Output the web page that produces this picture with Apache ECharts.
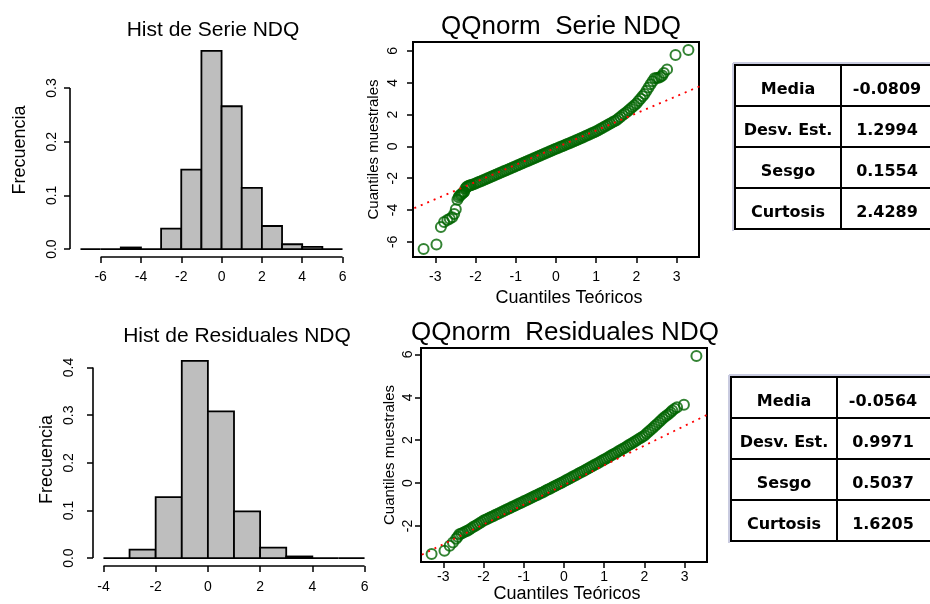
<!DOCTYPE html>
<html><head><meta charset="utf-8">
<script src="https://cdn.jsdelivr.net/npm/echarts@6/dist/echarts.min.js"></script>
<style>html,body{margin:0;padding:0;background:#fff}#c{width:930px;height:604px}</style>
</head><body><div id="c"></div>
<script>
// ---------------- data ----------------
const serieBreaks = [-7,-6,-5,-4,-3,-2,-1,0,1,2,3,4,5,6];
const serieDensity = [0,0,0.003,0,0.038,0.148,0.369,0.266,0.114,0.043,0.009,0.004,0];
const residBreaks = [-4,-3,-2,-1,0,1,2,3,4,5,6];
const residDensity = [0,0.018,0.128,0.414,0.308,0.098,0.022,0.0035,0,0];

const serieHistXTicks = [-6,-4,-2,0,2,4,6];
const serieHistYTicks = [0,0.1,0.2,0.3];
const residHistXTicks = [-4,-2,0,2,4,6];
const residHistYTicks = [0,0.1,0.2,0.3,0.4];
const qqXTicks = [-3,-2,-1,0,1,2,3];
const serieQQYTicks = [-6,-4,-2,0,2,4,6];
const residQQYTicks = [-2,0,2,4,6];

const serieQQTheo = [-3.29,-2.97,-2.86,-2.78,-2.70,-2.64,-2.58,-2.53,-2.49,-2.45,-2.42,-2.40,-2.37,-2.35,-2.33,-2.30,-2.28,-2.25,-2.22,-2.19,-2.16,-2.13,
 -2.10,-2.05,-2.00,-1.95,-1.90,-1.85,-1.80,-1.75,-1.70,-1.65,
 -1.60,-1.55,-1.50,-1.45,-1.40,-1.35,-1.30,-1.25,-1.20,-1.15,
 -1.10,-1.05,-1.00,-0.95,-0.90,-0.85,-0.80,-0.75,-0.70,-0.65,
 -0.60,-0.55,-0.50,-0.45,-0.40,-0.35,-0.30,-0.25,-0.20,-0.15,
 -0.10,-0.05,0.00,0.05,0.10,0.15,0.20,0.25,0.30,0.35,
 0.40,0.45,0.50,0.55,0.60,0.65,0.70,0.75,0.80,0.85,
 0.90,0.95,1.00,1.05,1.10,1.15,1.20,1.25,1.30,1.35,
 1.40,1.45,1.50,1.55,1.60,1.65,1.70,1.75,1.80,1.85,
 1.90,1.95,2.00,2.05,2.10,2.15,2.20,2.25,2.30,2.35,
 2.40,2.45,
 2.50,2.55,2.60,2.64,2.68,2.76,2.97,3.29];
const serieQQSample = [-6.45,-6.17,-5.07,-4.75,-4.62,-4.55,-4.45,-4.25,-3.95,-3.35,-3.20,-3.10,-3.05,-3.00,-2.95,-2.90,-2.85,-2.65,-2.55,-2.50,-2.47,-2.44,
 -2.42,-2.38,-2.33,-2.27,-2.22,-2.17,-2.11,-2.06,-2.00,-1.95,
 -1.89,-1.84,-1.78,-1.73,-1.67,-1.62,-1.56,-1.51,-1.46,-1.40,
 -1.35,-1.29,-1.24,-1.19,-1.13,-1.08,-1.02,-0.97,-0.92,-0.86,
 -0.81,-0.75,-0.70,-0.64,-0.59,-0.53,-0.48,-0.42,-0.37,-0.31,
 -0.26,-0.20,-0.15,-0.10,-0.04,0.01,0.06,0.12,0.17,0.22,
 0.27,0.33,0.38,0.44,0.49,0.55,0.61,0.67,0.72,0.78,
 0.84,0.89,0.95,1.02,1.09,1.16,1.23,1.30,1.37,1.44,
 1.51,1.58,1.65,1.75,1.85,1.95,2.05,2.15,2.25,2.36,
 2.48,2.59,2.70,2.85,3.00,3.15,3.30,3.50,3.70,3.90,
 4.10,4.28,
 4.30,4.32,4.38,4.45,4.62,4.84,5.75,6.06];

const residQQTheo = [-3.29,-2.97,-2.84,-2.76,-2.68,-2.64,
 -2.60,-2.55,-2.50,-2.45,-2.40,-2.35,-2.30,-2.25,-2.20,-2.15,
 -2.10,-2.05,-2.00,-1.95,-1.90,-1.85,-1.80,-1.75,-1.70,-1.65,
 -1.60,-1.55,-1.50,-1.45,-1.40,-1.35,-1.30,-1.25,-1.20,-1.15,
 -1.10,-1.05,-1.00,-0.95,-0.90,-0.85,-0.80,-0.75,-0.70,-0.65,
 -0.60,-0.55,-0.50,-0.45,-0.40,-0.35,-0.30,-0.25,-0.20,-0.15,
 -0.10,-0.05,0.00,0.05,0.10,0.15,0.20,0.25,0.30,0.35,
 0.40,0.45,0.50,0.55,0.60,0.65,0.70,0.75,0.80,0.85,
 0.90,0.95,1.00,1.05,1.10,1.15,1.20,1.25,1.30,1.35,
 1.40,1.45,1.50,1.55,1.60,1.65,1.70,1.75,1.80,1.85,
 1.90,1.95,2.00,2.05,2.10,2.15,2.20,2.25,2.30,2.35,
 2.40,2.45,
 2.50,2.55,2.60,2.65,2.69,2.75,2.81,2.98,3.29];
const residQQSample = [-3.31,-3.15,-2.92,-2.77,-2.60,-2.50,
 -2.39,-2.35,-2.31,-2.26,-2.22,-2.16,-2.10,-2.04,-1.99,-1.93,
 -1.87,-1.81,-1.75,-1.71,-1.66,-1.62,-1.57,-1.53,-1.48,-1.44,
 -1.39,-1.35,-1.30,-1.26,-1.21,-1.17,-1.12,-1.08,-1.03,-0.99,
 -0.94,-0.90,-0.85,-0.81,-0.76,-0.72,-0.67,-0.63,-0.58,-0.54,
 -0.49,-0.45,-0.40,-0.35,-0.30,-0.26,-0.21,-0.16,-0.11,-0.06,
 -0.02,0.03,0.08,0.13,0.18,0.23,0.28,0.33,0.38,0.43,
 0.48,0.53,0.58,0.63,0.68,0.74,0.79,0.84,0.89,0.94,
 1.00,1.05,1.10,1.15,1.21,1.26,1.32,1.37,1.42,1.48,
 1.53,1.59,1.64,1.70,1.76,1.81,1.87,1.93,1.99,2.05,
 2.10,2.16,2.22,2.31,2.39,2.48,2.56,2.65,2.73,2.82,
 2.91,3.00,
 3.08,3.15,3.22,3.30,3.39,3.47,3.54,3.65,5.93];

const serieQQLineX = [-4, 4];
const serieQQLineY = [-4.40, 4.24];
const residQQLineX = [-4, 4];
const residQQLineY = [-3.77, 3.59];

const statNames = ['Media','Desv. Est.','Sesgo','Curtosis'];
const serieStats = ['-0.0809','1.2994','0.1554','2.4289'];
const residStats = ['-0.0564','0.9971','0.5037','1.6205'];

// ---------------- helpers ----------------
const FONT = "'Liberation Sans', Arial, sans-serif";
function rExtend(lo, hi){ const d = (hi - lo) * 0.04; return [lo - d, hi + d]; }
function zip(a, b){ const n = Math.min(a.length, b.length); const r = []; for (let i = 0; i < n; i++) r.push([a[i], b[i]]); return r; }
function bins(breaks, dens){ return dens.map((d, i) => [breaks[i], breaks[i+1], d]); }

const h0x = rExtend(serieBreaks[0], serieBreaks[serieBreaks.length-1]);
const h0y = rExtend(0, Math.max(...serieDensity));
const h1x = rExtend(residBreaks[0], residBreaks[residBreaks.length-1]);
const h1y = rExtend(0, Math.max(...residDensity));
const q0x = rExtend(Math.min(...serieQQTheo), Math.max(...serieQQTheo));
const q0y = rExtend(Math.min(...serieQQSample), Math.max(...serieQQSample));
const q1x = rExtend(Math.min(...residQQTheo), Math.max(...residQQTheo));
const q1y = rExtend(Math.min(...residQQSample), Math.max(...residQQSample));

function vAxis(gi, range, ticks, o){
  return {
    type:'value', gridIndex:gi, min:range[0], max:range[1],
    splitLine:{show:false}, axisLine:{show:false, onZero:false},
    axisTick:{show:true, customValues:ticks, length:6, lineStyle:{color:'#000', width:1.5}},
    axisLabel:{customValues:ticks, margin:o.margin, rotate:o.rotate||0, fontSize:14, color:'#000', fontFamily:FONT,
      formatter:o.fmt || (v => String(Math.round(v)))},
    name:o.name||'', nameLocation:'middle', nameGap:o.nameGap||0, nameRotate:o.nameRotate||0,
    nameTextStyle:{fontSize:o.nameSize||16, color:'#000', fontFamily:FONT, padding:o.namePad||0}
  };
}
const fmt1 = v => v.toFixed(1);

function histSeries(gi, breaks, dens){
  return {
    type:'custom', xAxisIndex:gi, yAxisIndex:gi, silent:true,
    data:bins(breaks, dens), encode:{x:[0,1], y:2},
    renderItem:(params, api) => {
      const p0 = api.coord([api.value(0), api.value(2)]);
      const p1 = api.coord([api.value(1), 0]);
      return {type:'rect', shape:{x:p0[0], y:p0[1], width:p1[0]-p0[0], height:p1[1]-p0[1]},
        style:{fill:'#BEBEBE', stroke:'#000', lineWidth:1.8}};
    }
  };
}
function axisLineSeries(gi, data){
  return {type:'line', xAxisIndex:gi, yAxisIndex:gi, data:data, symbol:'none', clip:false, silent:true,
    lineStyle:{color:'#000', width:1.6}, z:5};
}
function qqPoints(gi, xs, ys){
  return {type:'scatter', xAxisIndex:gi, yAxisIndex:gi, data:zip(xs, ys), symbol:'circle', symbolSize:10, silent:true,
    itemStyle:{color:'rgba(0,0,0,0)', borderColor:'#006400', borderWidth:2}};
}
function qqLine(gi, xs, ys){
  return {type:'line', xAxisIndex:gi, yAxisIndex:gi, data:zip(xs, ys), symbol:'none', silent:true, z:4,
    lineStyle:{color:'#FF0000', width:1.8, type:[2,5]}};
}

function titleText(x, y, text, size){
  return {type:'text', x:x, y:y, silent:true,
    style:{text:text, align:'center', verticalAlign:'middle', fontSize:size, fontFamily:FONT, fill:'#000'}};
}
function tableGraphic(x, y, colX, rowH, names, vals){
  const h = rowH * names.length, w = 230;
  const els = [
    {type:'line', shape:{x1:x-2, y1:y-2, x2:x-2, y2:y+h+2}, style:{stroke:'#c9cbe0', lineWidth:2}},
    {type:'line', shape:{x1:x-2, y1:y-2, x2:x+w, y2:y-2}, style:{stroke:'#c9cbe0', lineWidth:2}},
    {type:'rect', shape:{x:x, y:y, width:w, height:h}, style:{fill:'#fff', stroke:'#000', lineWidth:2}},
    {type:'line', shape:{x1:colX, y1:y, x2:colX, y2:y+h}, style:{stroke:'#000', lineWidth:2}}
  ];
  for (let i = 1; i < names.length; i++)
    els.push({type:'line', shape:{x1:x, y1:y+rowH*i, x2:x+w, y2:y+rowH*i}, style:{stroke:'#000', lineWidth:2}});
  names.forEach((n, i) => {
    const cy = y + rowH*i + rowH/2 + 4;
    els.push({type:'text', x:(x+colX)/2, y:cy, style:{text:n, align:'center', verticalAlign:'middle',
      fontSize:16, fontWeight:'bold', fontFamily:"'DejaVu Sans', sans-serif", fill:'#000'}});
    els.push({type:'text', x:colX+46, y:cy, style:{text:vals[i], align:'center', verticalAlign:'middle',
      fontSize:16, fontWeight:'bold', fontFamily:"'DejaVu Sans', sans-serif", fill:'#000'}});
  });
  return {type:'group', silent:true, children:els};
}

const option = {
  animation:false,
  backgroundColor:'#fff',
  grid:[
    {left:70, top:43, width:283, height:214},
    {left:413, top:42, width:286, height:215, show:true, borderColor:'#000', borderWidth:2, backgroundColor:'transparent'},
    {left:93, top:353, width:282, height:213},
    {left:421, top:348, width:286, height:214, show:true, borderColor:'#000', borderWidth:2, backgroundColor:'transparent'}
  ],
  xAxis:[
    vAxis(0, h0x, serieHistXTicks, {margin:13}),
    vAxis(1, q0x, qqXTicks, {margin:13, name:'Cuantiles Teóricos', nameGap:32, nameSize:18, namePad:[0,0,0,26]}),
    vAxis(2, h1x, residHistXTicks, {margin:14}),
    vAxis(3, q1x, qqXTicks, {margin:8, name:'Cuantiles Teóricos', nameGap:22, nameSize:18, namePad:[0,0,0,6]})
  ],
  yAxis:[
    vAxis(0, h0y, serieHistYTicks, {margin:11, rotate:90, fmt:fmt1, name:'Frecuencia', nameGap:41, nameRotate:90, nameSize:18}),
    vAxis(1, q0y, serieQQYTicks, {margin:13, rotate:90, name:'Cuantiles muestrales', nameGap:32, nameRotate:90, nameSize:15}),
    vAxis(2, h1y, residHistYTicks, {margin:17, rotate:90, fmt:fmt1, name:'Frecuencia', nameGap:37, nameRotate:90, nameSize:18}),
    vAxis(3, q1y, residQQYTicks, {margin:6, rotate:90, name:'Cuantiles muestrales', nameGap:24, nameRotate:90, nameSize:15})
  ],
  series:[
    histSeries(0, serieBreaks, serieDensity),
    axisLineSeries(0, [[serieHistXTicks[0], h0y[0]], [serieHistXTicks[serieHistXTicks.length-1], h0y[0]]]),
    axisLineSeries(0, [[h0x[0], serieHistYTicks[0]], [h0x[0], serieHistYTicks[serieHistYTicks.length-1]]]),
    qqPoints(1, serieQQTheo, serieQQSample),
    qqLine(1, serieQQLineX, serieQQLineY),
    histSeries(2, residBreaks, residDensity),
    axisLineSeries(2, [[residHistXTicks[0], h1y[0]], [residHistXTicks[residHistXTicks.length-1], h1y[0]]]),
    axisLineSeries(2, [[h1x[0], residHistYTicks[0]], [h1x[0], residHistYTicks[residHistYTicks.length-1]]]),
    qqPoints(3, residQQTheo, residQQSample),
    qqLine(3, residQQLineX, residQQLineY)
  ],
  graphic:[
    titleText(213, 30, 'Hist de Serie NDQ', 21),
    titleText(561, 27, 'QQnorm  Serie NDQ', 26),
    titleText(237, 336, 'Hist de Residuales NDQ', 21),
    titleText(565, 333, 'QQnorm  Residuales NDQ', 26),
    tableGraphic(735, 65, 841, 41, statNames, serieStats),
    tableGraphic(731, 377, 837, 41, statNames, residStats)
  ]
};
const chart = echarts.init(document.getElementById('c'), null, {renderer:'canvas'});
chart.setOption(option);
</script>
</body></html>
